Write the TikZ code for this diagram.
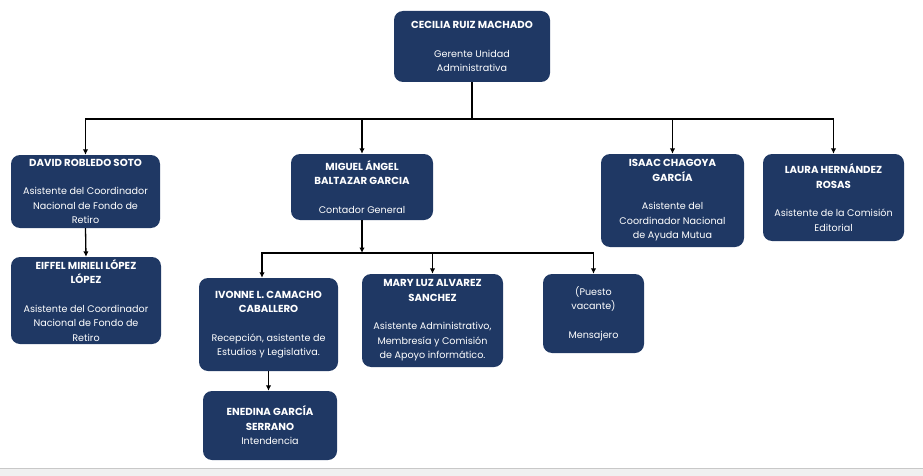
\documentclass[tikz,border=0pt]{standalone}
\usepackage{fontspec}
\setmainfont{Poppins}
\usetikzlibrary{arrows.meta}
\definecolor{navy}{RGB}{31,56,100}
\definecolor{stripgray}{RGB}{240,240,240}
\definecolor{stripline}{RGB}{200,200,200}
\newcommand{\nm}[1]{{\fontsize{10.2}{14.5}\selectfont\bfseries #1}}
\begin{document}
\begin{tikzpicture}[x=1pt,y=-1pt,
    box/.style={fill=navy,rounded corners=9pt,text=white,align=center,inner sep=2pt,
      font=\fontsize{9.6}{14.5}\selectfont},
    wire/.style={line width=1.3pt},
    link/.style={line width=1.3pt,-{Latex[length=5.5pt,width=5.5pt]}}]
    \useasboundingbox (0,0) rectangle (923,476);
    \fill[stripgray] (0,468) rectangle (923,476);
    \draw[stripline] (0,468) -- (923,468);
    % boxes
    \node[box,minimum width=156pt,minimum height=71pt] (cecilia) at (472,46.5)
      {\nm{CECILIA RUIZ MACHADO}\\[14pt]Gerente Unidad\\Administrativa};
    \node[box,minimum width=149pt,minimum height=73pt] (david) at (85.5,191.5)
      {\nm{DAVID ROBLEDO SOTO}\\[14pt]Asistente del Coordinador\\Nacional de Fondo de\\Retiro};
    \node[box,minimum width=150pt,minimum height=87pt] (eiffel) at (86,300.5)
      {\nm{EIFFEL MIRIELI LÓPEZ}\\\nm{LÓPEZ}\\[14pt]Asistente del Coordinador\\Nacional de Fondo de\\Retiro};
    \node[box,minimum width=142pt,minimum height=66pt] (miguel) at (362,187)
      {\nm{MIGUEL ÁNGEL}\\\nm{BALTAZAR GARCIA}\\[14pt]Contador General};
    \node[box,minimum width=143pt,minimum height=93pt] (isaac) at (672.5,200.5)
      {\nm{ISAAC CHAGOYA}\\\nm{GARCÍA}\\[14pt]Asistente del\\Coordinador Nacional\\de Ayuda Mutua};
    \node[box,minimum width=141pt,minimum height=87pt] (laura) at (833.5,197.5)
      {\nm{LAURA HERNÁNDEZ}\\\nm{ROSAS}\\[14pt]Asistente de la Comisión\\Editorial};
    \node[box,minimum width=139pt,minimum height=93pt] (ivonne) at (268.5,324.5)
      {\nm{IVONNE L. CAMACHO}\\\nm{CABALLERO}\\[14pt]Recepción, asistente de\\Estudios y Legislativa.};
    \node[box,minimum width=141pt,minimum height=93pt] (mary) at (432.5,320.5)
      {\nm{MARY LUZ ALVAREZ}\\\nm{SANCHEZ}\\[14pt]Asistente Administrativo,\\Membresía y Comisión\\de Apoyo informático.};
    \node[box,minimum width=101pt,minimum height=79pt] (puesto) at (593.5,313.5)
      {(Puesto\\vacante)\\[14pt]Mensajero};
    \node[box,minimum width=134pt,minimum height=69pt] (enedina) at (270,425.5)
      {\nm{ENEDINA GARCÍA}\\\nm{SERRANO}\\Intendencia};
    % connectors
    \coordinate (topbar) at (472,119);
    \coordinate (midbar) at (362,253);
    \draw[wire] (cecilia.south) -- (topbar);
    \draw[link] (topbar) -| (david.north);
    \draw[link] (topbar) -| (miguel.north);
    \draw[link] (topbar) -| (isaac.north);
    \draw[link] (topbar) -| (laura.north);
    \draw[link] (david.south) -- (eiffel.north);
    \draw[link] (miguel.south) -- (midbar);
    \draw[link] (midbar) -| ([xshift=-6.5pt]ivonne.north);
    \draw[link] (midbar) -| (mary.north);
    \draw[link] (midbar) -| (puesto.north);
    \draw[link] (ivonne.south) -- (ivonne.south |- enedina.north);
\end{tikzpicture}
\end{document}
